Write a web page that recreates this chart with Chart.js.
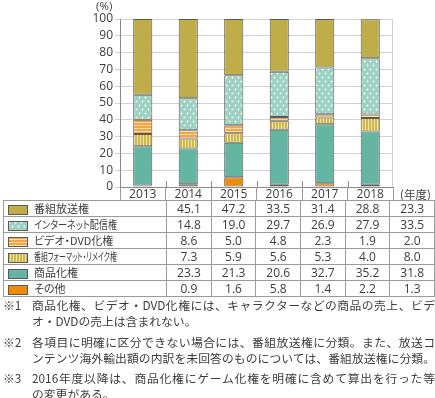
<!DOCTYPE html>
<html lang="ja">
<head>
<meta charset="utf-8">
<script src="https://cdn.jsdelivr.net/npm/chart.js@4.4.1/dist/chart.umd.min.js"></script>
<style>
body { margin: 0; width: 435px; height: 398px; background: #fff; position: relative; overflow: hidden;
       font-family: "Open Sans", "Noto Sans CJK JP", sans-serif; color: #3c3c3c; }
#chartBox { position: absolute; left: 0; top: 0; width: 435px; height: 200px; }
#unitY { position: absolute; left: 96px; top: -2px; font-size: 11.5px; }
#unitX { position: absolute; left: 400px; top: 186px; font-size: 11.5px; font-family: "Noto Sans CJK JP", sans-serif; }
#tbl { position: absolute; left: 3px; top: 200px; border-collapse: collapse; table-layout: fixed; }
#tbl tr { height: 16px; }
#tbl td { border: 1px solid #9a9a9a; padding: 0; font-size: 12px; line-height: 14px; text-align: center; white-space: nowrap; overflow: hidden; }
#tbl td.lab { text-align: left; font-size: 11px; font-family: "Noto Sans CJK JP", sans-serif; }
#tbl td.lab canvas { vertical-align: middle; margin: 0 6px 0 4px; position: relative; top: -1px; }
#tbl td.lab span { display: inline-block; transform-origin: left center; font-feature-settings: "palt"; }
.note { position: absolute; font-size: 11.8px; line-height: 16px; white-space: nowrap; font-family: "Noto Sans CJK JP", sans-serif; }
.note b { position: absolute; left: 0; font-weight: normal; }
.note div { margin-left: 29px; width: 403px; }
.note div.j { text-align: justify; text-align-last: justify; }
</style>
</head>
<body>
<div id="chartBox"><canvas id="c" width="435" height="200"></canvas></div>
<div id="unitY">(%)</div>
<div id="unitX">(年度)</div>
<table id="tbl"><tbody id="tb"></tbody></table>
<div class="note" style="left:3px;top:297px"><b>※1</b><div class="j">商品化権、ビデオ・DVD化権には、キャラクターなどの商品の売上、ビデ</div><div>オ・DVDの売上は含まれない。</div></div>
<div class="note" style="left:3px;top:334px"><b>※2</b><div class="j">各項目に明確に区分できない場合には、番組放送権に分類。また、放送コ</div><div class="j">ンテンツ海外輸出額の内訳を未回答のものについては、番組放送権に分類。</div></div>
<div class="note" style="left:3px;top:370px"><b>※3</b><div class="j">2016年度以降は、商品化権にゲーム化権を明確に含めて算出を行った等</div><div>の変更がある。</div></div>
<script>
// データ(単位:%)
const years = ['2013', '2014', '2015', '2016', '2017', '2018'];
const bangumi  = [45.1, 47.2, 33.5, 31.4, 28.8, 23.3]; // 番組放送権
const internet = [14.8, 19.0, 29.7, 26.9, 27.9, 33.5]; // インターネット配信権
const video    = [8.6, 5.0, 4.8, 2.3, 1.9, 2.0];       // ビデオ・DVD化権
const format   = [7.3, 5.9, 5.6, 5.3, 4.0, 8.0];       // 番組フォーマット・リメイク権
const shohin   = [23.3, 21.3, 20.6, 32.7, 35.2, 31.8]; // 商品化権
const sonota   = [0.9, 1.6, 5.8, 1.4, 2.2, 1.3];       // その他
const yMax = 100;
const yStep = 10;

// 模様を作る
function makePattern(kind) {
    const c = document.createElement('canvas');
    const g = c.getContext('2d');
    if (kind === 'dots') {
        c.width = 6; c.height = 8;
        g.fillStyle = '#9dd2c2'; g.fillRect(0, 0, 6, 8);
        g.fillStyle = '#ffffff';
        g.beginPath(); g.arc(1.5, 1.5, 0.9, 0, Math.PI * 2); g.fill();
        g.beginPath(); g.arc(4.5, 5.5, 0.9, 0, Math.PI * 2); g.fill();
    } else if (kind === 'hstripe') {
        c.width = 4; c.height = 3;
        g.fillStyle = '#f5a446'; g.fillRect(0, 0, 4, 3);
        g.fillStyle = '#fcdcaa'; g.fillRect(0, 2, 4, 1);
    } else if (kind === 'vstripe') {
        c.width = 3; c.height = 4;
        g.fillStyle = '#cdb950'; g.fillRect(0, 0, 3, 4);
        g.fillStyle = '#efe3a0'; g.fillRect(2, 0, 1, 4);
    }
    return g.createPattern(c, 'repeat');
}

const series = [
    { name: 'その他', data: sonota, fill: '#ef8b0c' },
    { name: '商品化権', data: shohin, fill: '#65b5a3' },
    { name: '番組フォーマット・リメイク権', data: format, fill: makePattern('vstripe') },
    { name: 'ビデオ・DVD化権', data: video, fill: makePattern('hstripe') },
    { name: 'インターネット配信権', data: internet, fill: makePattern('dots') },
    { name: '番組放送権', data: bangumi, fill: '#bfad49' }
];

// 枠線・目盛りの補助線
const framePlugin = {
    id: 'frame',
    afterDraw(chart) {
        const { ctx, chartArea: a, scales: { x } } = chart;
        ctx.save();
        ctx.strokeStyle = '#cfcfcf';
        ctx.lineWidth = 1;
        ctx.beginPath();
        ctx.moveTo(a.right - 0.5, a.top);
        ctx.lineTo(a.right - 0.5, a.bottom);
        ctx.stroke();
        ctx.strokeStyle = '#8a8a8a';
        ctx.beginPath();
        for (let i = 1; i < years.length; i++) {
            const px = Math.round((x.getPixelForValue(i - 1) + x.getPixelForValue(i)) / 2) + 0.5;
            ctx.moveTo(px, a.bottom - 6);
            ctx.lineTo(px, a.bottom);
        }
        ctx.stroke();
        ctx.restore();
    }
};

const fontTick = { family: 'Open Sans', size: 12 };

new Chart(document.getElementById('c'), {
    type: 'bar',
    data: {
        labels: years,
        datasets: series.map(s => ({
            label: s.name,
            data: s.data,
            backgroundColor: s.fill,
            borderColor: '#5a5a5a',
            borderWidth: 1,
            borderSkipped: false,
            barPercentage: 0.42,
            categoryPercentage: 1
        }))
    },
    options: {
        responsive: false,
        animation: false,
        layout: { padding: { top: 19, right: 42, left: 0, bottom: 0 } },
        plugins: { legend: { display: false }, tooltip: { enabled: false } },
        scales: {
            x: {
                stacked: true,
                grid: { offset: true, drawOnChartArea: false, color: '#9a9a9a', tickLength: 13 },
                border: { color: '#8a8a8a' },
                ticks: { color: '#3c3c3c', font: fontTick, padding: -13 },
                afterFit: s => { s.height = 13; }
            },
            y: {
                stacked: true,
                min: 0, max: yMax,
                grid: { color: '#d2d2d2', tickLength: 5 },
                border: { color: '#8a8a8a' },
                ticks: { stepSize: yStep, autoSkip: false, color: '#3c3c3c', font: fontTick, padding: 2 },
                afterFit: s => { s.width = 120; }
            }
        }
    },
    plugins: [framePlugin]
});

// 表
const tb = document.getElementById('tb');
const colW = [116, 45.5, 45.5, 45.5, 45.5, 45.5, 45.5];
series.slice().reverse().forEach(s => {
    const tr = document.createElement('tr');
    const td = document.createElement('td');
    td.className = 'lab';
    td.style.width = colW[0] + 'px';
    const sw = document.createElement('canvas');
    sw.width = 20; sw.height = 10;
    const g = sw.getContext('2d');
    g.fillStyle = s.fill; g.fillRect(0, 0, 20, 10);
    g.strokeStyle = '#5a5a5a'; g.strokeRect(0.5, 0.5, 19, 9);
    td.appendChild(sw);
    const sp = document.createElement('span');
    sp.textContent = s.name;
    td.appendChild(sp);
    tr.appendChild(td);
    s.data.forEach((v, i) => {
        const c = document.createElement('td');
        c.style.width = colW[i + 1] + 'px';
        c.textContent = v.toFixed(1);
        tr.appendChild(c);
    });
    tb.appendChild(tr);
});
document.querySelectorAll('#tbl td.lab span').forEach(sp => {
    const w = sp.getBoundingClientRect().width;
    if (w > 83) sp.style.transform = 'scaleX(' + (83 / w).toFixed(3) + ')';
});
</script>
</body>
</html>
